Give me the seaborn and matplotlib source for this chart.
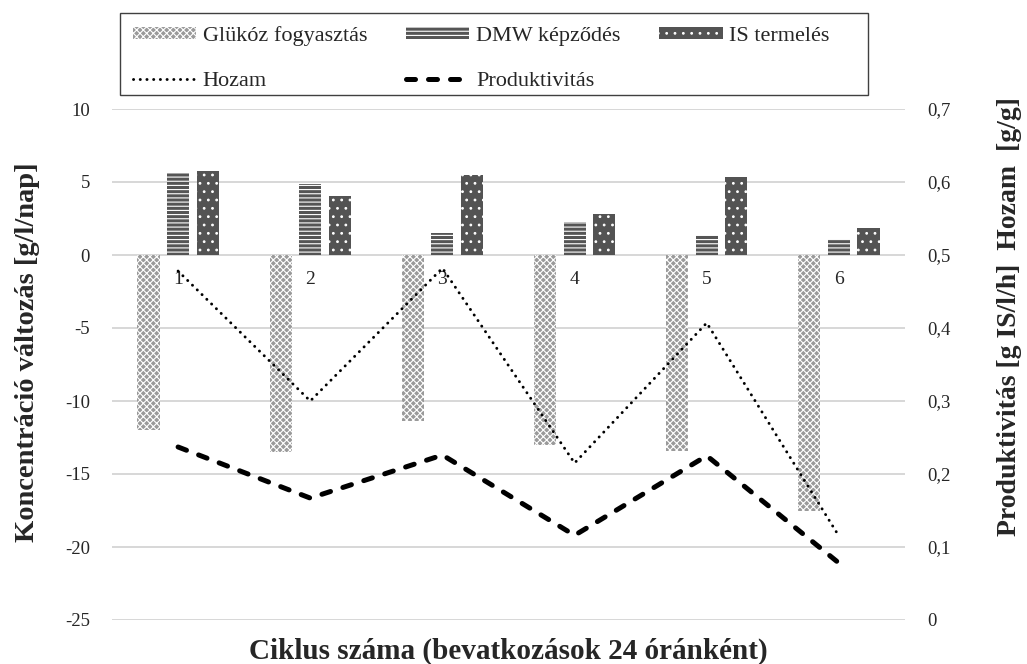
import numpy as np
import pandas as pd
import matplotlib
matplotlib.use("Agg")
import matplotlib.pyplot as plt
from matplotlib.ticker import FuncFormatter
from matplotlib.patches import Rectangle
import seaborn as sns

# ---- data ----
ciklus = ["1", "2", "3", "4", "5", "6"]
glukoz = [-12.0, -13.5, -11.4, -13.0, -13.4, -17.5]
dmw = [5.64, 4.86, 1.50, 2.26, 1.37, 1.10]
is_term = [5.75, 4.04, 5.48, 2.81, 5.35, 1.85]
hozam = [0.478, 0.300, 0.482, 0.215, 0.407, 0.115]
produkt = [0.237, 0.167, 0.226, 0.116, 0.225, 0.078]

series_names = ["Glükóz fogyasztás", "DMW képződés", "IS termelés"]
left_ticks = [-25, -20, -15, -10, -5, 0, 5, 10]
right_ticks = [0, 0.1, 0.2, 0.3, 0.4, 0.5, 0.6, 0.7]

df = pd.DataFrame({
    "ciklus": ciklus * 3,
    "value": glukoz + dmw + is_term,
    "series": sum([[n] * len(ciklus) for n in series_names], []),
})

sns.set_style("white")
plt.rcParams["font.family"] = ["Liberation Serif", "DejaVu Serif"]
plt.rcParams["axes.unicode_minus"] = False
plt.rcParams["hatch.linewidth"] = 0.8

fig = plt.figure(figsize=(10.27, 6.64), dpi=100)
ax = fig.add_axes([112 / 1027, 44 / 664, 793 / 1027, 511 / 664])

sns.barplot(data=df, x="ciklus", y="value", hue="series", order=ciklus,
            hue_order=series_names, width=0.67, gap=0.25, errorbar=None,
            legend=False, ax=ax)

styles = [
    dict(face="#9a9a9a", hatch="xxxxx"),
    dict(face="#555555", hatch="----"),
    dict(face="#535353", hatch=".."),
]
for cont, st in zip(ax.containers, styles):
    for p in cont.patches:
        p.set_facecolor(st["face"])
        p.set_edgecolor("white")
        p.set_linewidth(0)
        p.set_hatch(st["hatch"])

ax.set_xlim(-0.5, len(ciklus) - 0.5)
ax.set_ylim(-25, 10)
ax.set_yticks(left_ticks)
ax.set_yticklabels([str(t) for t in left_ticks])
ax.set_xticks([])
ax.set_xlabel("")
ax.set_ylabel("")
ax.grid(axis="y", color="#d4d4d4", linewidth=1.3)
ax.set_axisbelow(True)
for s in ax.spines.values():
    s.set_visible(False)
ax.tick_params(axis="y", length=0, pad=16, labelsize=13.5)

for i, lab in enumerate(ciklus):
    ax.annotate(lab, xy=(i, 0), xytext=(0, -18), textcoords="offset points",
                ha="center", va="center", fontsize=14)

ax2 = ax.twinx()
xpos = np.arange(len(ciklus))
sns.lineplot(x=xpos, y=hozam, ax=ax2, color="black", linewidth=2.1,
             dashes=False, legend=False)
sns.lineplot(x=xpos, y=produkt, ax=ax2, color="black", linewidth=3.6,
             dashes=False, legend=False)
l_hoz, l_prod = ax2.lines[0], ax2.lines[1]
l_hoz.set_dashes((0.05, 2.25))
l_hoz.set_dash_capstyle("round")
l_prod.set_dashes((1.8, 2.6))
l_prod.set_dash_capstyle("round")

ax2.set_ylim(0, 0.7)
ax2.set_yticks(right_ticks)
ax2.yaxis.set_major_formatter(FuncFormatter(
    lambda v, p: "0" if abs(v) < 1e-9 else f"{v:.1f}".replace(".", ",")))
ax2.tick_params(axis="y", length=0, pad=16, labelsize=13.5)
for s in ax2.spines.values():
    s.set_visible(False)
ax2.set_xlim(-0.5, len(ciklus) - 0.5)
ax2.grid(False)

ax.set_xlabel("Ciklus száma (bevatkozások 24 óránként)", fontsize=21,
              fontweight="bold", va="center")
ax.xaxis.set_label_coords(0.5, -(651 - 620) / 511)
ax.set_ylabel("Koncentráció változás [g/l/nap]", fontsize=20.5,
              fontweight="bold", va="center", ha="center")
ax.yaxis.set_label_coords((28 - 112) / 793, (620 - 352) / 511)
ax2.set_ylabel("Produktivitás [g IS/l/h]  Hozam  [g/g]", fontsize=20,
               fontweight="bold", va="center", ha="center", rotation=90)
ax2.yaxis.set_label_coords((1010 - 112) / 793, (620 - 317) / 511)

# legend frame (drawn separately, as in the reference box)
fig.patches.append(Rectangle((120 / 1027, 1 - 95 / 664), 748 / 1027, 82 / 664,
                             transform=fig.transFigure, facecolor="white",
                             edgecolor="#404040", linewidth=1.0, zorder=5))

handles = [ax.containers[0], l_hoz, ax.containers[1], l_prod, ax.containers[2]]
labels = [series_names[0], "Hozam", series_names[1], "Produktivitás", series_names[2]]
leg = fig.legend(handles, labels, ncol=3, loc="upper left",
                 bbox_to_anchor=(126 / 1027, 1 - 19 / 664),
                 fontsize=16, frameon=False,
                 handlelength=2.85, handleheight=0.45, handletextpad=0.3,
                 labelspacing=1.2, columnspacing=1.75, borderpad=0.3,
                 borderaxespad=0)
leg.set_zorder(6)

fig.savefig("out.png", dpi=100)
